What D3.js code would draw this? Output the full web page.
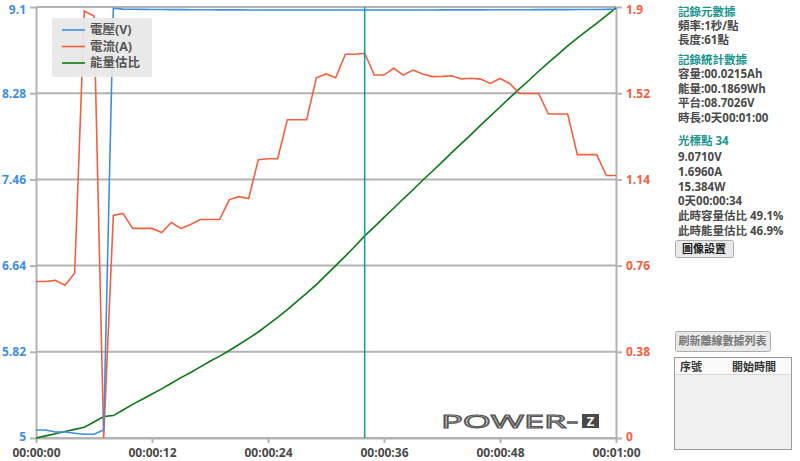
<!DOCTYPE html>
<html><head><meta charset="utf-8">
<script src="https://cdn.jsdelivr.net/npm/d3@7/dist/d3.min.js"></script>
<style>
html,body{margin:0;padding:0;background:#fff;}
svg text{font-family:'Open Sans','Noto Sans CJK TC',sans-serif;}
</style></head><body>
<svg id="c" width="800" height="461"></svg>
<script>
// ---- data ----
const seconds = d3.range(0, 61);
const voltage = [5.076,5.076,5.057,5.057,5.045,5.035,5.035,5.076,9.088,9.080,
 9.078,9.077,9.076,9.076,9.075,9.075,9.074,9.074,9.074,9.073,
 9.073,9.073,9.072,9.072,9.072,9.072,9.071,9.071,9.071,9.071,
 9.071,9.071,9.071,9.071,9.071,9.071,9.071,9.072,9.072,9.072,
 9.072,9.072,9.073,9.073,9.073,9.073,9.073,9.074,9.074,9.074,
 9.074,9.074,9.075,9.075,9.075,9.075,9.076,9.076,9.076,9.077,9.078];
const current = [0.690,0.690,0.695,0.673,0.726,1.882,1.860,0.000,0.981,0.990,
 0.924,0.924,0.924,0.906,0.950,0.924,0.941,0.963,0.963,0.963,
 1.051,1.064,1.056,1.227,1.231,1.231,1.403,1.403,1.403,1.588,
 1.605,1.588,1.692,1.692,1.696,1.600,1.600,1.630,1.600,1.622,
 1.605,1.593,1.594,1.597,1.583,1.586,1.582,1.563,1.585,1.563,
 1.519,1.519,1.519,1.428,1.428,1.428,1.249,1.249,1.249,1.157,1.157];
const energyPct = [0,0.5,1.0,1.5,2.0,2.5,3.7,5.0,5.2,6.5,
 7.8,9.0,10.2,11.4,12.7,14.0,15.2,16.5,17.8,19.0,
 20.3,21.7,23.1,24.6,26.3,28.0,29.8,31.7,33.6,35.6,
 37.8,40.0,42.2,44.5,46.9,49.0,51.2,53.3,55.5,57.6,
 59.8,61.9,64.0,66.2,68.3,70.4,72.6,74.7,76.8,78.9,
 81.0,83.0,85.1,87.1,89.0,91.0,92.8,94.5,96.2,98.0,99.8];
const leftTicks = [5, 5.82, 6.64, 7.46, 8.28, 9.1];
const leftLabels = ["5","5.82","6.64","7.46","8.28","9.1"];
const rightTicks = [0, 0.38, 0.76, 1.14, 1.52, 1.9];
const rightLabels = ["0","0.38","0.76","1.14","1.52","1.9"];
const xTicks = [0, 12, 24, 36, 48, 60];
const xLabels = ["00:00:00","00:00:12","00:00:24","00:00:36","00:00:48","00:01:00"];
const legendNames = ["電壓(V)","電流(A)","能量估比"];
const cursorSec = 34;
const panelTitles = ["記錄元數據","記錄統計數據","光標點 34"];
const metaLines = ["頻率:1秒/點","長度:61點"];
const statLines = ["容量:00.0215Ah","能量:00.1869Wh","平台:08.7026V","時長:0天00:01:00"];
const cursorLines = ["9.0710V","1.6960A","15.384W","0天00:00:34","此時容量估比 49.1%","此時能量估比 46.9%"];
const buttonLabels = ["圖像設置","刷新離線數據列表"];
const tableHeaders = ["序號","開始時間"];

// ---- chart ----
const svg = d3.select("#c");
const L = 36, R = 616, T = 7, B = 438;
const x = d3.scaleLinear().domain([0,60]).range([L,R]);
const yV = d3.scaleLinear().domain([5,9.1]).range([B,T]);
const yI = d3.scaleLinear().domain([0,1.9]).range([B,T]);
const yE = d3.scaleLinear().domain([0,100]).range([B,T]);
const COL_V = "#3d8fe3", COL_I = "#f2603f", COL_E = "#0b7a12", GRID = "#b3b3b3";

// grid
svg.append("g").selectAll("line").data(leftTicks).join("line")
  .attr("x1",L).attr("x2",R).attr("y1",d=>yV(d)).attr("y2",d=>yV(d))
  .attr("stroke",GRID).attr("stroke-width",2);

// axes
const axL = svg.append("g").attr("transform",`translate(${L},0)`)
  .call(d3.axisLeft(yV).tickValues(leftTicks).tickFormat((d,i)=>leftLabels[i]).tickSize(6).tickSizeOuter(0).tickPadding(4));
const axR = svg.append("g").attr("transform",`translate(${R},0)`)
  .call(d3.axisRight(yI).tickValues(rightTicks).tickFormat((d,i)=>rightLabels[i]).tickSize(6).tickSizeOuter(0).tickPadding(4));
const axB = svg.append("g").attr("transform",`translate(0,${B})`)
  .call(d3.axisBottom(x).tickValues(xTicks).tickFormat((d,i)=>xLabels[i]).tickSize(5).tickSizeOuter(0).tickPadding(3));
[axL,axR,axB].forEach(a=>{
  a.select(".domain").attr("stroke",GRID).attr("stroke-width",2);
  a.selectAll(".tick line").attr("stroke",GRID).attr("stroke-width",2);
  a.selectAll("text").attr("font-size",12).attr("font-weight",700);
});
axL.selectAll("text").attr("fill",COL_V);
axR.selectAll("text").attr("fill",COL_I);
// keep the top labels inside the frame
axL.selectAll(".tick").filter(d=>d===9.1).select("text").attr("dy","0.5em");
axR.selectAll(".tick").filter(d=>d===1.9).select("text").attr("dy","0.5em");
axL.selectAll(".tick").filter(d=>d===5).select("text").attr("dy","0.2em");
axR.selectAll(".tick").filter(d=>d===0).select("text").attr("dy","0.2em");
axB.selectAll("text").attr("fill","#4a4a4a").attr("dy","0.95em");

// series
const lineOf = (ys, arr) => d3.line().x((d,i)=>x(seconds[i])).y((d,i)=>ys(arr[i]));
svg.append("path").datum(energyPct).attr("d",lineOf(yE,energyPct)).attr("fill","none").attr("stroke",COL_E).attr("stroke-width",1.6);
svg.append("path").datum(current).attr("d",lineOf(yI,current)).attr("fill","none").attr("stroke",COL_I).attr("stroke-width",1.6);
svg.append("path").datum(voltage).attr("d",lineOf(yV,voltage)).attr("fill","none").attr("stroke",COL_V).attr("stroke-width",1.6);

// cursor
svg.append("line").attr("x1",x(cursorSec)).attr("x2",x(cursorSec)).attr("y1",T).attr("y2",B)
  .attr("stroke","#1b9ba3").attr("stroke-width",1.6);

// logo
const logo = svg.append("g");
logo.append("text").attr("x",441).attr("y",428).text("POWER-")
  .attr("font-family","'DejaVu Sans',sans-serif").attr("font-size",19).attr("font-weight",400)
  .attr("fill","none").attr("stroke","#555").attr("stroke-width",1.1)
  .attr("textLength",137).attr("lengthAdjust","spacingAndGlyphs");
logo.append("rect").attr("x",582).attr("y",414).attr("width",17).attr("height",14).attr("fill","#4a4a4a");
logo.append("text").attr("x",590.5).attr("y",426).attr("text-anchor","middle").text("Z")
  .attr("font-family","'DejaVu Sans',sans-serif").attr("font-size",13).attr("font-weight",700).attr("fill","#fff");

// legend
const lg = svg.append("g");
lg.append("rect").attr("x",52).attr("y",18).attr("width",100).attr("height",59).attr("fill","#e8e8e8").attr("opacity",0.95);
const lcols = [COL_V, COL_I, COL_E];
legendNames.forEach((n,i)=>{
  const yy = 30 + i*16.5;
  lg.append("line").attr("x1",62).attr("x2",85).attr("y1",yy).attr("y2",yy).attr("stroke",lcols[i]).attr("stroke-width",1.6);
  lg.append("text").attr("x",90).attr("y",yy).attr("dy","0.35em").text(n)
    .attr("font-size",12.5).attr("font-weight",700).attr("fill","#555");
});

// right panel
const P = svg.append("g").attr("font-size",11.5).attr("font-weight",700);
const TEAL = "#1a9590", DARK = "#4a4a4a";
const ptxt = (t,y,c)=>P.append("text").attr("x",678).attr("y",y).attr("dy","0.35em").text(t).attr("fill",c);
ptxt(panelTitles[0],12,TEAL);
metaLines.forEach((t,i)=>ptxt(t,25.5+i*14.5,DARK));
ptxt(panelTitles[1],60,TEAL);
statLines.forEach((t,i)=>ptxt(t,74+i*14.5,DARK));
ptxt(panelTitles[2],141,TEAL);
cursorLines.forEach((t,i)=>ptxt(t,157+i*14.8,DARK));

// buttons
const btn = (x0,y0,w,h,t,c)=>{
  const g = svg.append("g");
  g.append("rect").attr("x",x0+0.5).attr("y",y0+0.5).attr("width",w).attr("height",h).attr("rx",2)
    .attr("fill","#e9e9e9").attr("stroke","#adadad");
  g.append("text").attr("x",x0+w/2).attr("y",y0+h/2+0.5).attr("dy","0.35em").attr("text-anchor","middle")
    .text(t).attr("font-size",11).attr("font-weight",700).attr("fill",c);
};
btn(675,240,58,17,buttonLabels[0],"#222");
btn(675,331,95,20,buttonLabels[1],"#777");

// table
const tb = svg.append("g");
tb.append("rect").attr("x",674.5).attr("y",357.5).attr("width",117).attr("height",92).attr("fill","#f0f0f0").attr("stroke","#9a9a9a");
tb.append("rect").attr("x",675).attr("y",358).attr("width",116).attr("height",16).attr("fill","#fafafa");
tb.append("line").attr("x1",675).attr("x2",791).attr("y1",374.5).attr("y2",374.5).attr("stroke","#d8d8d8");
tb.append("text").attr("x",680).attr("y",367).attr("dy","0.35em").text(tableHeaders[0]).attr("font-size",11).attr("font-weight",700).attr("fill","#333");
tb.append("text").attr("x",732).attr("y",367).attr("dy","0.35em").text(tableHeaders[1]).attr("font-size",11).attr("font-weight",700).attr("fill","#333");
</script>
</body></html>
